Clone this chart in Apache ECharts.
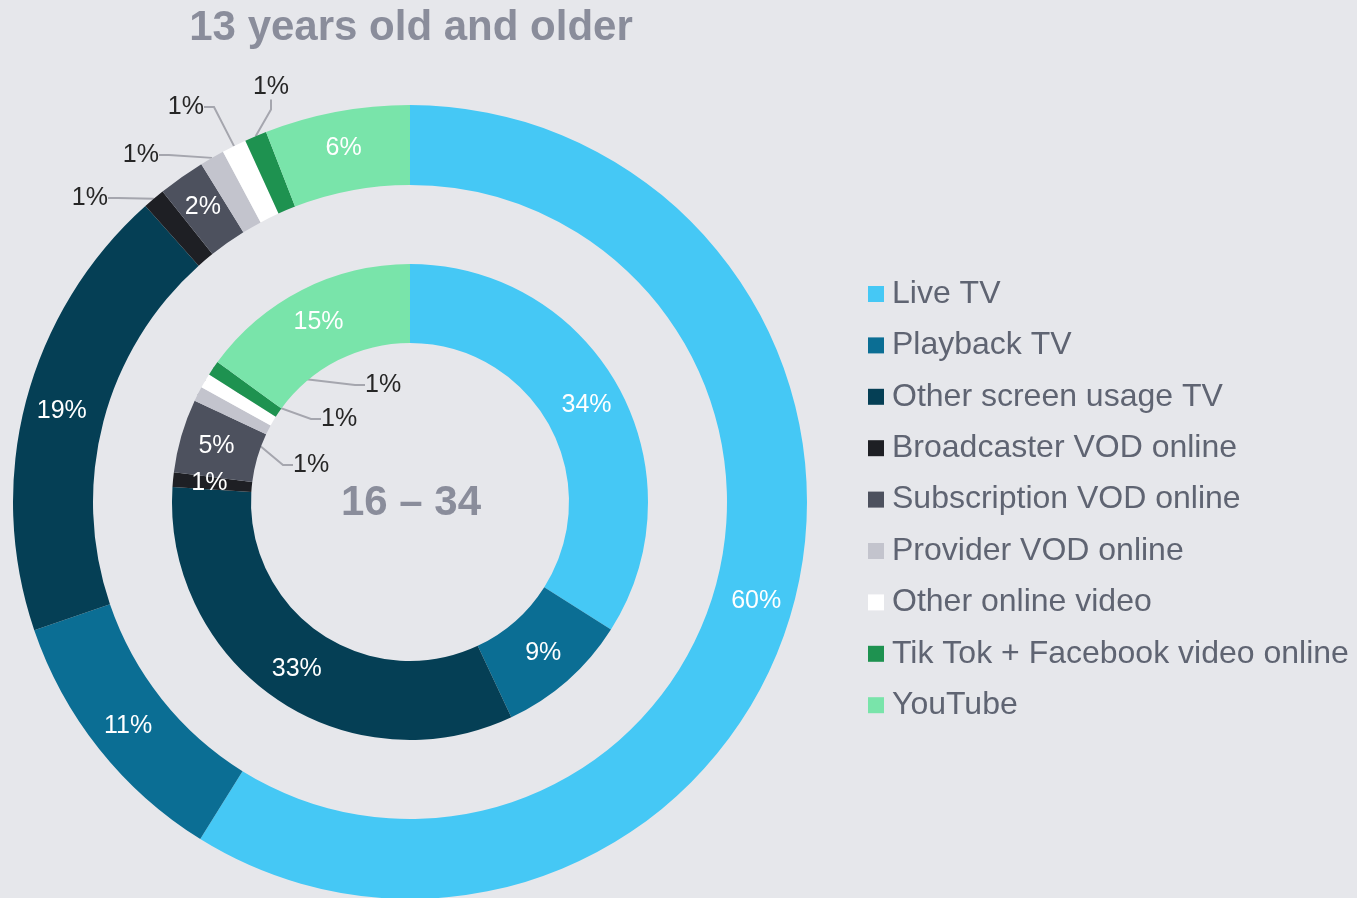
<!DOCTYPE html>
<html>
<head>
<meta charset="utf-8">
<title>Viewing share</title>
<style>
  html, body { margin: 0; padding: 0; background: #e6e7eb; }
  #main { width: 1357px; height: 898px; }
</style>
<script src="https://cdn.jsdelivr.net/npm/echarts@6/dist/echarts.min.js"></script>
</head>
<body>
<div id="main"></div>
<script>
// categories, shared by both rings
const categories = [
    'Live TV',
    'Playback TV',
    'Other screen usage TV',
    'Broadcaster VOD online',
    'Subscription VOD online',
    'Provider VOD online',
    'Other online video',
    'Tik Tok + Facebook video online',
    'YouTube'
]
const colors = ['#45c8f5', '#0b6e94', '#053f55', '#1e1f24', '#4d515e', '#c3c4cd', '#ffffff', '#1e9250', '#79e4aa']

// outer ring: 13 years old and older
const outerValues = [58.8, 10.9, 18.6, 0.9, 1.9, 1.0, 1.0, 0.9, 5.9]
const outerLabels = ['60%', '11%', '19%', '1%', '2%', '1%', '1%', '1%', '6%']
const outerOutside = [3, 5, 6, 7]

// inner ring: 16 - 34
const innerValues = [34, 9, 33, 1, 5, 1, 1, 1, 15]
const innerLabels = ['34%', '9%', '33%', '1%', '5%', '1%', '1%', '1%', '15%']
const innerOutside = [5, 6, 7]

const FONT = '"Liberation Sans", Arial, sans-serif'

function buildData(values, outside) {
    return categories.map(function (name, i) {
        const item = { name: name, value: values[i], itemStyle: { color: colors[i] } }
        if (outside.indexOf(i) >= 0) {
            item.label = { position: 'outside', color: '#262626' }
            item.labelLine = { show: true }
        }
        return item
    })
}

const myChart = echarts.init(document.getElementById('main'))

const option = {
    backgroundColor: '#e6e7eb',
    animation: false,
    textStyle: { fontFamily: FONT },
    graphic: [
        {
            type: 'text',
            x: 411,
            y: 28,
            style: {
                text: '13 years old and older',
                textAlign: 'center',
                textVerticalAlign: 'middle',
                font: 'bold 42px ' + FONT,
                fill: '#8a8d9b'
            }
        },
        {
            type: 'text',
            x: 411,
            y: 503,
            style: {
                text: '16 – 34',
                textAlign: 'center',
                textVerticalAlign: 'middle',
                font: 'bold 42px ' + FONT,
                fill: '#8a8d9b'
            }
        }
    ],
    legend: {
        orient: 'vertical',
        left: 868,
        top: 278,
        padding: 0,
        itemWidth: 16,
        itemHeight: 16,
        itemGap: 19.4,
        icon: 'rect',
        data: categories,
        textStyle: { fontSize: 32, color: '#5f6472', fontFamily: FONT, padding: [0, 0, 0, 3] }
    },
    series: [
        {
            name: '13 years old and older',
            type: 'pie',
            center: [410, 502],
            radius: [317, 397],
            startAngle: 90,
            clockwise: true,
            avoidLabelOverlap: true,
            itemStyle: { borderWidth: 0 },
            label: {
                show: true,
                position: 'inside',
                color: '#ffffff',
                fontSize: 25,
                fontFamily: FONT,
                formatter: function (p) { return outerLabels[p.dataIndex] }
            },
            labelLine: {
                show: false,
                length: 18,
                length2: 10,
                lineStyle: { color: '#a5a6ae', width: 2 }
            },
            // callouts of the thin slices, spread up and to the left
            labelLayout: function (p) {
                const spot = {
                    3: [108, 198, 'right'],
                    5: [159, 155, 'right'],
                    6: [204, 107, 'right'],
                    7: [271, 87, 'center']
                }[p.dataIndex]
                if (!spot) return {}
                return { x: spot[0], y: spot[1], align: spot[2], verticalAlign: 'middle' }
            },
            emphasis: { disabled: true },
            data: buildData(outerValues, outerOutside)
        },
        {
            name: '16 – 34',
            type: 'pie',
            center: [410, 502],
            radius: [159, 238],
            startAngle: 90,
            clockwise: true,
            itemStyle: { borderWidth: 0 },
            label: {
                show: true,
                position: 'inside',
                color: '#ffffff',
                fontSize: 25,
                fontFamily: FONT,
                formatter: function (p) { return innerLabels[p.dataIndex] }
            },
            labelLine: {
                show: false,
                length: 10,
                length2: 10,
                lineStyle: { color: '#a5a6ae', width: 2 }
            },
            // the small slices get their callouts drawn into the hole
            labelLayout: function (p) {
                const spot = { 5: [293, 465], 6: [321, 419], 7: [365, 385] }[p.dataIndex]
                if (!spot) return {}
                return { x: spot[0], y: spot[1], align: 'left', verticalAlign: 'middle' }
            },
            emphasis: { disabled: true },
            data: buildData(innerValues, innerOutside)
        }
    ]
}

myChart.setOption(option)
</script>
</body>
</html>
